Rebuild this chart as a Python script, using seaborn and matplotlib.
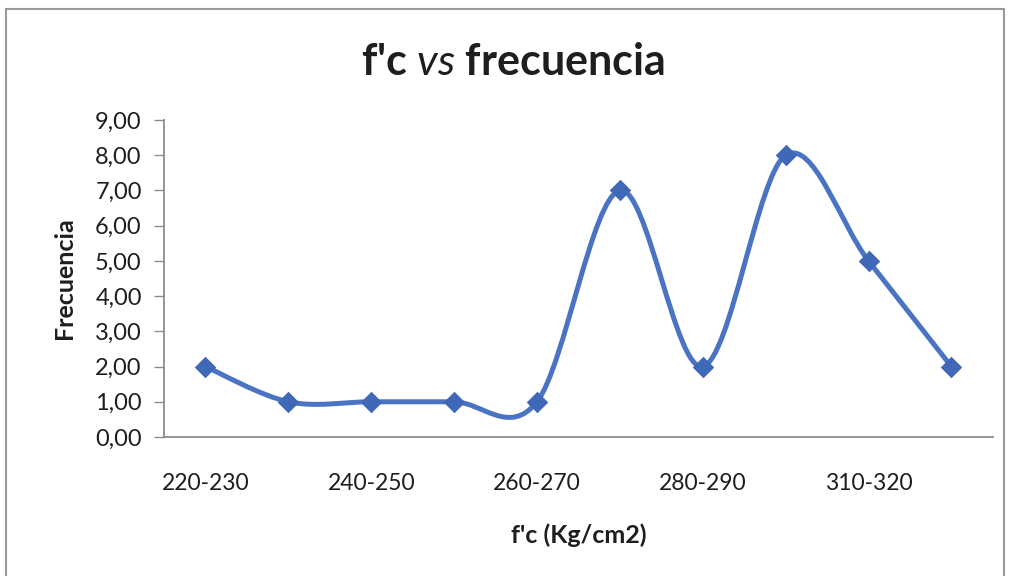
import numpy as np
import pandas as pd
import matplotlib
matplotlib.use("Agg")
import matplotlib.pyplot as plt
from matplotlib.path import Path
from matplotlib.patches import PathPatch, Rectangle
from matplotlib.ticker import FuncFormatter, FixedLocator
import seaborn as sns

# Resistance classes (Kg/cm2) and their observed frequency
categories = ["220-230", "230-240", "240-250", "250-260", "260-270",
              "270-280", "280-290", "300-310", "310-320", "320-330"]
frecuencia = [2, 1, 1, 1, 1, 7, 2, 8, 5, 2]
shown_labels = ["220-230", "240-250", "260-270", "280-290", "310-320"]

df = pd.DataFrame({"pos": np.arange(len(categories)), "frecuencia": frecuencia})

sns.set_theme(style="white")
plt.rcParams["font.family"] = ["Lato", "DejaVu Sans"]
plt.rcParams["mathtext.fontset"] = "custom"
plt.rcParams["mathtext.it"] = "Lato:italic"
plt.rcParams["mathtext.rm"] = "Lato"

LINE = "#4A74C3"
MARK = "#3F68B8"
TEXT = "#1e1e1e"
AXIS = "#8c8c8c"

fig = plt.figure(figsize=(10.10, 5.76), dpi=100)
ax = fig.add_axes([0.1624, 0.2413, 0.8206, 0.5504])

# Smoothed connecting line: cubic Bezier segments through each data point
xs = df["pos"].to_numpy(dtype=float)
ys = df["frecuencia"].to_numpy(dtype=float)
px = np.concatenate([[xs[0]], xs, [xs[-1]]])
py = np.concatenate([[ys[0]], ys, [ys[-1]]])
verts = [(xs[0], ys[0])]
codes = [Path.MOVETO]
for i in range(1, len(xs)):
    a, b = i, i + 1  # indices in padded arrays of P_{i-1}, P_i
    c1 = (px[a] + (px[b] - px[a - 1]) / 6, py[a] + (py[b] - py[a - 1]) / 6)
    c2 = (px[b] - (px[b + 1] - px[a]) / 6, py[b] - (py[b + 1] - py[a]) / 6)
    verts += [c1, c2, (px[b], py[b])]
    codes += [Path.CURVE4] * 3
ax.add_patch(PathPatch(Path(verts, codes), facecolor="none", edgecolor=LINE,
                       lw=3.6, capstyle="round", joinstyle="round", zorder=2))

sns.scatterplot(data=df, x="pos", y="frecuencia", marker="D", s=120,
                color=MARK, edgecolor=MARK, linewidth=0, ax=ax, zorder=3)

ax.set_xlim(-0.5, len(categories) - 0.5)
ax.set_ylim(0, 9)
ax.yaxis.set_major_locator(FixedLocator(np.arange(0, 10, 1)))
ax.yaxis.set_major_formatter(FuncFormatter(lambda v, _: f"{v:.2f}".replace(".", ",")))
ax.set_xticks([categories.index(c) for c in shown_labels])
ax.set_xticklabels(shown_labels)

ax.tick_params(axis="y", left=True, length=7, width=1, color=AXIS, pad=9,
               labelsize=17, labelcolor=TEXT)
ax.tick_params(axis="x", bottom=False, pad=20, labelsize=16.5, labelcolor=TEXT)

for side in ["top", "right"]:
    ax.spines[side].set_visible(False)
for side in ["left", "bottom"]:
    ax.spines[side].set_color(AXIS)
    ax.spines[side].set_linewidth(1.3)

ax.set_xlabel("f'c (Kg/cm2)", fontsize=18, fontweight="bold", color=TEXT, labelpad=21)
ax.set_ylabel("Frecuencia", fontsize=18, fontweight="bold", color=TEXT, labelpad=14)

fig.text(0.508, 0.892, r"f'c $\mathit{vs}$ frecuencia", ha="center", va="center",
         fontsize=31, fontweight="bold", color=TEXT)

# Chart border
fig.patches.append(Rectangle((0.006, -0.02), 0.988, 1.005, transform=fig.transFigure,
                             facecolor="none", edgecolor="#9a9a9a", lw=1.5))

fig.savefig("out.png", dpi=100, facecolor="white")
